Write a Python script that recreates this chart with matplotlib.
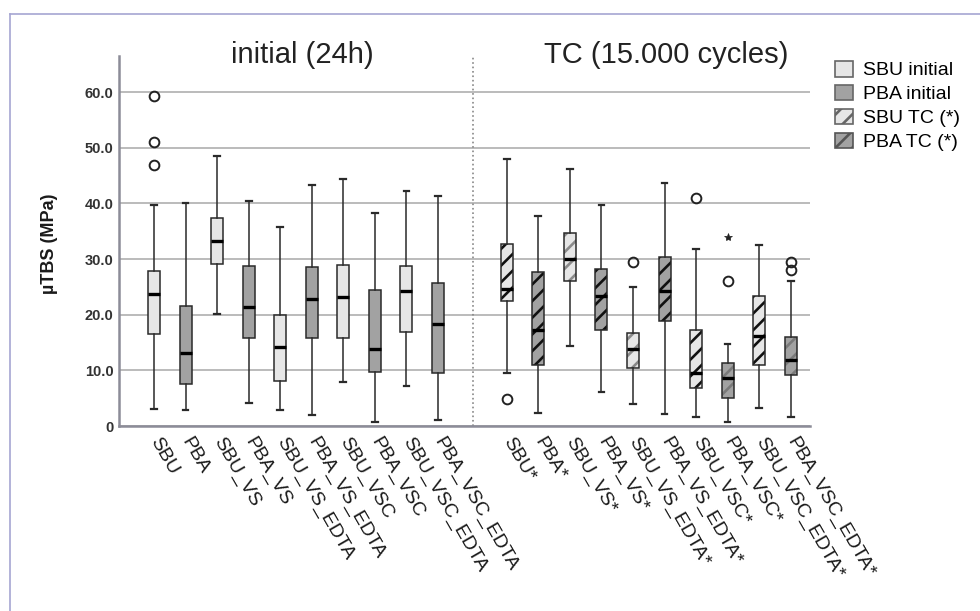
import matplotlib.pyplot as plt
import matplotlib.patches as mpatches
from matplotlib.lines import Line2D

plt.rcParams['font.family'] = ['Liberation Sans', 'DejaVu Sans']
plt.rcParams['hatch.linewidth'] = 1.9

groups = ["SBU", "PBA", "SBU_VS", "PBA_VS", "SBU_VS_EDTA", "PBA_VS_EDTA",
          "SBU_VSC", "PBA_VSC", "SBU_VSC_EDTA", "PBA_VSC_EDTA"]
labels_init = groups
labels_tc = [g + "*" for g in groups]

# initial (24h)
init_whislo = [3.0, 2.8, 20.2, 4.1, 2.8, 2.0, 7.9, 0.8, 7.1, 1.1]
init_q1 = [16.6, 7.5, 29.1, 15.9, 8.1, 15.9, 15.9, 9.7, 16.9, 9.6]
init_med = [23.75, 13.1, 33.3, 21.4, 14.2, 22.9, 23.2, 13.8, 24.2, 18.4]
init_q3 = [27.9, 21.6, 37.4, 28.7, 20.0, 28.5, 28.9, 24.4, 28.7, 25.7]
init_whishi = [39.8, 40.1, 48.6, 40.4, 35.7, 43.4, 44.4, 38.2, 42.2, 41.4]
init_out = [[59.4, 51.0, 46.9], [], [], [], [], [], [], [], [], []]

# TC (15.000 cycles)
tc_whislo = [9.6, 2.4, 14.3, 6.2, 4.0, 2.2, 1.6, 0.8, 3.2, 1.6]
tc_q1 = [22.5, 10.9, 26.0, 17.3, 10.4, 18.8, 6.8, 5.1, 11.0, 9.2]
tc_med = [24.6, 17.3, 30.0, 23.3, 13.9, 24.3, 9.5, 8.6, 16.2, 11.9]
tc_q3 = [32.8, 27.6, 34.7, 28.2, 16.8, 30.3, 17.2, 11.4, 23.3, 16.0]
tc_whishi = [48.0, 37.8, 46.2, 39.7, 25.0, 43.7, 31.9, 14.8, 32.6, 26.1]
tc_out = [[4.8], [], [], [], [29.5], [], [41.0], [26.0], [], [29.5, 28.1]]
tc_extreme = [[], [], [], [], [], [], [], [34.0], [], []]

light = '#e6e6e6'
dark = '#a2a2a2'
hatch_cols = ['#111111', '#111111', '#8a8a8a', '#111111', '#8a8a8a',
              '#111111', '#111111', '#7a7a7a', '#111111', '#7a7a7a']

pos_init = [i for i in range(10)]
pos_tc = [11.18 + i for i in range(10)]


def make_stats(lo, q1, med, q3, hi, out):
    st = []
    for i in range(len(lo)):
        st.append(dict(whislo=lo[i], q1=q1[i], med=med[i], q3=q3[i],
                       whishi=hi[i], fliers=out[i]))
    return st


fig = plt.figure(figsize=(9.8, 6.11), dpi=100)
ax = fig.add_axes([119/980, 185/611, 691/980, 370/611])

st_init = make_stats(init_whislo, init_q1, init_med, init_q3, init_whishi, init_out)
st_tc = make_stats(tc_whislo, tc_q1, tc_med, tc_q3, tc_whishi, tc_out)

common = dict(widths=0.38, capwidths=0.18, patch_artist=True,
              whiskerprops=dict(color='#2a2a2a', lw=1.1),
              capprops=dict(color='#2a2a2a', lw=1.6),
              medianprops=dict(color='black', lw=2.4),
              flierprops=dict(marker='o', markersize=7, markerfacecolor='none',
                              markeredgecolor='#222222', markeredgewidth=1.4))

b1 = ax.bxp(st_init, positions=pos_init, manage_ticks=False,
            boxprops=dict(edgecolor='#2a2a2a', lw=1.1), **common)
for i, p in enumerate(b1['boxes']):
    p.set_facecolor(light if i % 2 == 0 else dark)

# hatched fill underneath, black outline on top
b2 = ax.bxp(st_tc, positions=pos_tc, manage_ticks=False, showfliers=False,
            widths=0.38, patch_artist=True, showcaps=False,
            whiskerprops=dict(lw=0), medianprops=dict(lw=0),
            boxprops=dict(lw=0))
for i, p in enumerate(b2['boxes']):
    p.set_facecolor(light if i % 2 == 0 else dark)
    p.set_edgecolor(hatch_cols[i])
    p.set_hatch('//')
    p.set_linewidth(0)
b3 = ax.bxp(st_tc, positions=pos_tc, manage_ticks=False,
            boxprops=dict(edgecolor='#2a2a2a', lw=1.1, facecolor='none'), **common)

for i in range(10):
    for v in tc_extreme[i]:
        ax.plot(pos_tc[i], v, marker='*', color='#222222', markersize=6,
                markeredgewidth=0.5, ls='none')

ax.set_xlim(-1.11, 20.79)
ax.set_ylim(0, 66.5)
ax.set_yticks([0, 10, 20, 30, 40, 50, 60])
ax.set_yticklabels(['0', '10.0', '20.0', '30.0', '40.0', '50.0', '60.0'],
                   fontsize=10.5, fontweight='bold', color='#333333')
ax.set_xticks(pos_init + pos_tc)
ax.set_xticklabels(labels_init + labels_tc, rotation=-60, ha='left', va='center',
                   rotation_mode='anchor', fontsize=14, color='#1a1a1a')
ax.tick_params(axis='both', length=0)
ax.tick_params(axis='x', pad=9)
ax.tick_params(axis='y', pad=4)

ax.grid(axis='y', color='#b5b5b5', lw=1.3)
ax.set_axisbelow(True)
for s in ['top', 'right']:
    ax.spines[s].set_visible(False)
for s in ['left', 'bottom']:
    ax.spines[s].set_color('#8c8c98')
    ax.spines[s].set_linewidth(1.8)
ax.axvline(10.1, color='#888888', ls=':', lw=1.2)

ax.text(4.69, 66.7, 'initial (24h)', ha='center', va='center', fontsize=21,
        color='#222222', clip_on=False)
ax.text(16.23, 66.7, 'TC (15.000 cycles)', ha='center', va='center', fontsize=21,
        color='#222222', clip_on=False)

fig.text(49/980, 1 - 244/611, 'µTBS (MPa)', rotation=90, ha='center', va='center',
         fontsize=13, fontweight='bold', color='#1a1a1a')

handles = [mpatches.Patch(facecolor=light, edgecolor='#666666', lw=1.2),
           mpatches.Patch(facecolor=dark, edgecolor='#666666', lw=1.2),
           mpatches.Patch(facecolor=light, edgecolor='#666666', lw=1.2, hatch='//'),
           mpatches.Patch(facecolor=dark, edgecolor='#555555', lw=1.2, hatch='//')]
fig.legend(handles, ['SBU initial', 'PBA initial', 'SBU TC (*)', 'PBA TC (*)'],
           loc='upper left', bbox_to_anchor=(835/980, 1 - 61/611), frameon=False,
           fontsize=14, handlelength=0.95, handleheight=0.85, handletextpad=0.5,
           labelspacing=0.28, borderpad=0, borderaxespad=0)

# outer frame
fig.add_artist(Line2D([10/980, 10/980], [0, 1 - 14/611], color='#a6a6d2', lw=1.2))
fig.add_artist(Line2D([10/980, 1], [1 - 14/611, 1 - 14/611], color='#a6a6d2', lw=1.2))

fig.savefig('out.png', dpi=100)
